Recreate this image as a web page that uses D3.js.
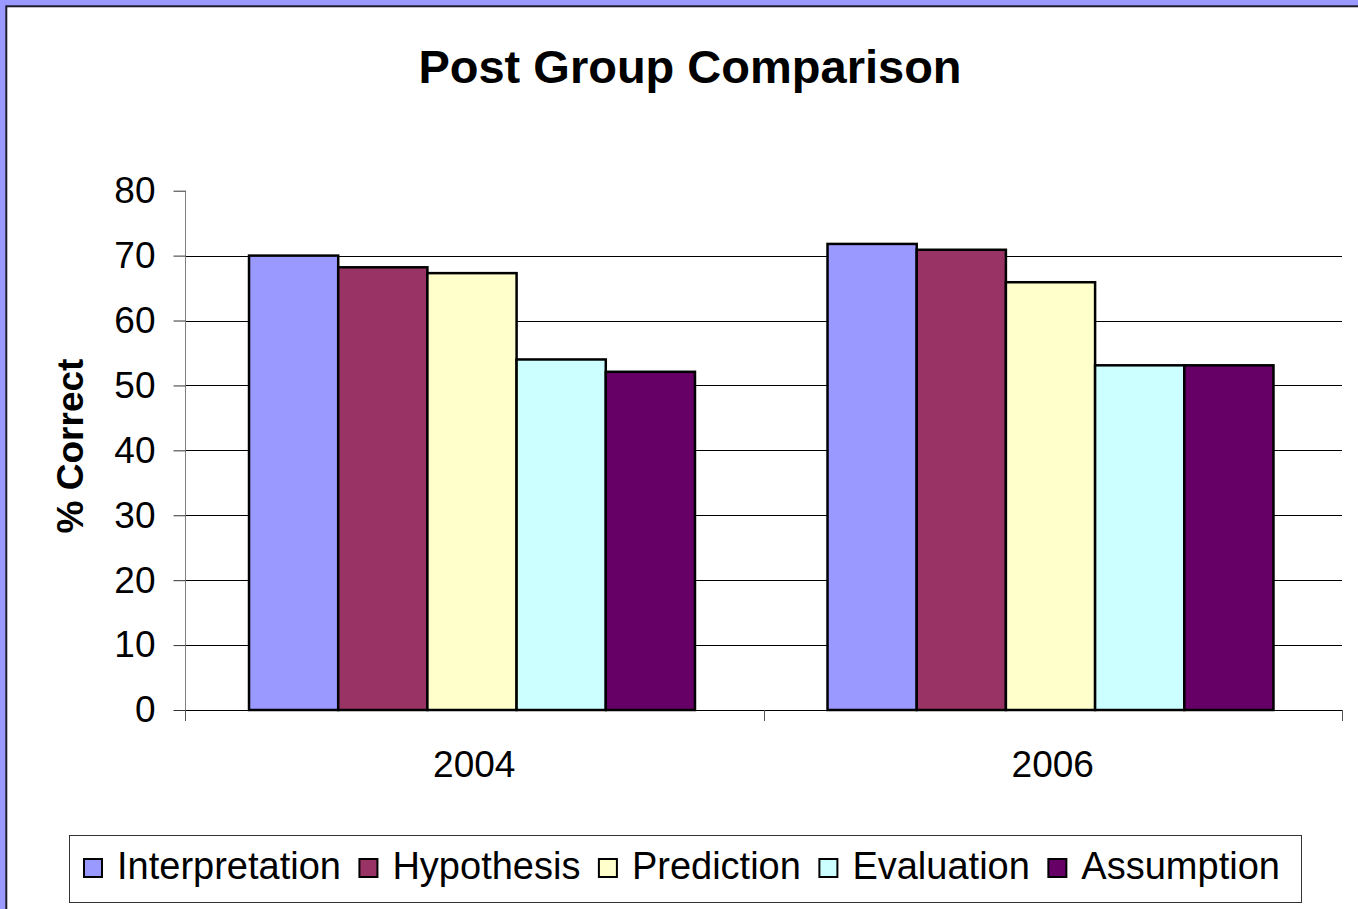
<!DOCTYPE html>
<html>
<head>
<meta charset="utf-8">
<script src="https://cdn.jsdelivr.net/npm/d3@7"></script>
<style>
  html, body { margin: 0; padding: 0; background: #fff; }
  svg { display: block; font-family: "Liberation Sans", Arial, sans-serif; }
</style>
</head>
<body>
<svg id="chart" width="1358" height="909"></svg>
<script>
// ---- data ----
const years = ["2004", "2006"];
const series = ["Interpretation", "Hypothesis", "Prediction", "Evaluation", "Assumption"];
const values2004 = [70, 68.2, 67.3, 54, 52.1];
const values2006 = [71.8, 70.9, 65.9, 53.1, 53.1];
const colors = ["#9999FF", "#993366", "#FFFFCC", "#CCFFFF", "#660066"];
const yTicks = [0, 10, 20, 30, 40, 50, 60, 70, 80];
const title = "Post Group Comparison";
const yLabel = "% Correct";

const table = [values2004, values2006];

const svg = d3.select("#chart");
const W = 1358, H = 909;

// frame
svg.append("rect").attr("x", 0).attr("y", 0).attr("width", W).attr("height", H).attr("fill", "#9999FF");
svg.append("rect").attr("x", 6.3).attr("y", 6.3).attr("width", W + 20).attr("height", H + 20)
  .attr("fill", "#fff").attr("stroke", "#1c1c2c").attr("stroke-width", 2);

// title
svg.append("text").attr("x", 690).attr("y", 83).attr("text-anchor", "middle")
  .attr("font-size", 47).attr("font-weight", "bold").attr("fill", "#000").text(title);

// scales
const plotL = 185, plotR = 1342, plotT = 190.7, plotB = 710;
const y = d3.scaleLinear().domain([0, 80]).range([plotB, plotT]);
const x0 = d3.scaleBand().domain(years).range([plotL, plotR]).padding(0);
const x1 = d3.scaleBand().domain(series).range([0, x0.bandwidth()])
  .paddingInner(0).paddingOuter(0.743).align(0.483);
const color = d3.scaleOrdinal().domain(series).range(colors);

// gridlines
svg.append("g").selectAll("line").data(yTicks.filter(t => t > 0 && t < 80)).join("line")
  .attr("x1", plotL).attr("x2", plotR)
  .attr("y1", d => Math.round(y(d)) + 0.5).attr("y2", d => Math.round(y(d)) + 0.5)
  .attr("stroke", "#000").attr("stroke-width", 1);

// y axis
const yAxis = svg.append("g").attr("transform", `translate(${plotL + 0.5},0)`)
  .call(d3.axisLeft(y).tickValues(yTicks).tickSize(12).tickPadding(18).tickFormat(d3.format("d")));
yAxis.select(".domain").attr("stroke", "#808080").attr("d", `M0,${plotT}V${plotB + 11}`);
yAxis.selectAll(".tick line").attr("stroke", "#333");
yAxis.selectAll(".tick text").attr("font-size", 37).attr("fill", "#000")
  .attr("font-family", "'Liberation Sans', Arial, sans-serif");

// bars
const groups = svg.append("g").selectAll("g").data(years).join("g")
  .attr("transform", d => `translate(${x0(d)},0)`);
groups.selectAll("rect").data((d, i) => series.map((s, j) => ({ s, v: table[i][j] }))).join("rect")
  .attr("x", d => x1(d.s)).attr("width", x1.bandwidth())
  .attr("y", d => y(d.v)).attr("height", d => y(0) - y(d.v))
  .attr("fill", d => color(d.s)).attr("stroke", "#000").attr("stroke-width", 2.5);

// x axis
const xAxisG = svg.append("g").attr("transform", `translate(0,${plotB})`);
xAxisG.append("line").attr("x1", plotL).attr("x2", plotR).attr("y1", 0.5).attr("y2", 0.5).attr("stroke", "#000");
const xTickPos = [plotL, ...years.map(d => x0(d) + x0.bandwidth())];
xAxisG.selectAll("line.xt").data(xTickPos).join("line").attr("class", "xt")
  .attr("x1", d => Math.round(d) + 0.5).attr("x2", d => Math.round(d) + 0.5)
  .attr("y1", 0).attr("y2", 11).attr("stroke", "#555");
xAxisG.selectAll("text").data(years).join("text")
  .attr("x", d => x0(d) + x0.bandwidth() / 2).attr("y", 67)
  .attr("text-anchor", "middle").attr("font-size", 37).attr("fill", "#000").text(d => d);

// y label
svg.append("text").attr("transform", "translate(83,446) rotate(-90)")
  .attr("text-anchor", "middle").attr("font-size", 37).attr("font-weight", "bold").text(yLabel);

// legend
const leg = svg.append("g");
leg.append("rect").attr("x", 69.5).attr("y", 835.5).attr("width", 1232).attr("height", 67)
  .attr("fill", "#fff").attr("stroke", "#333").attr("stroke-width", 1);
let lx = 84;
series.forEach((s, i) => {
  leg.append("rect").attr("x", lx).attr("y", 859).attr("width", 18).attr("height", 18)
    .attr("fill", colors[i]).attr("stroke", "#000").attr("stroke-width", 2);
  const t = leg.append("text").attr("x", lx + 33).attr("y", 879).attr("font-size", 38).attr("fill", "#000").text(s);
  const w = t.node().getComputedTextLength();
  lx = lx + 33 + w + 18.5;
});
</script>
</body>
</html>
